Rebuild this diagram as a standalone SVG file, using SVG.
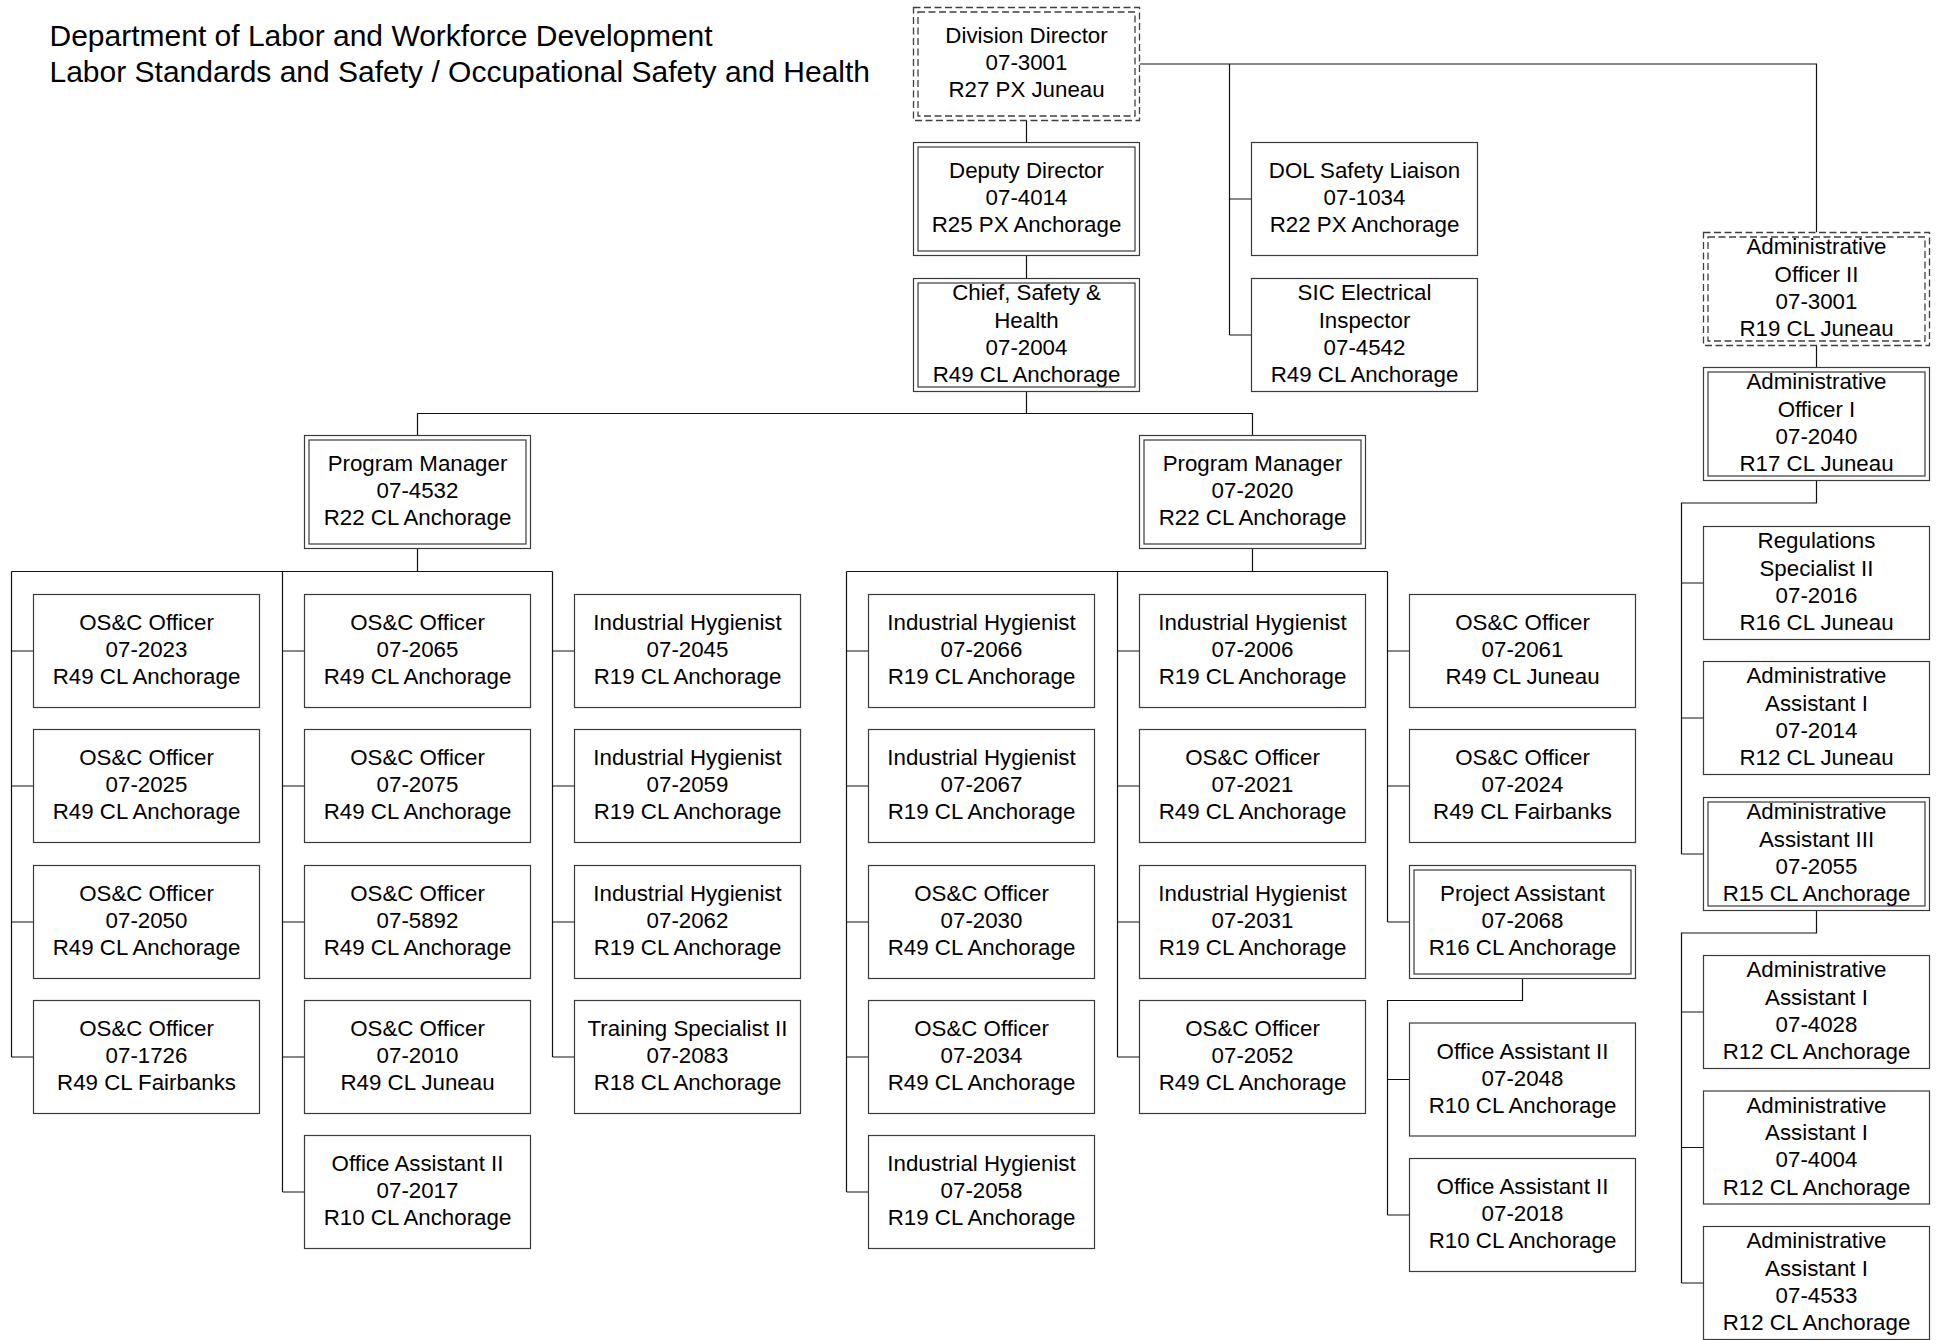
<svg xmlns="http://www.w3.org/2000/svg" width="1936" height="1340" viewBox="0 0 1936 1340">
<style>
.b{fill:#fff;stroke:#3a3a3a;stroke-width:1.2}
.d{fill:#fff;stroke:#3f3f3f;stroke-width:1.3;stroke-dasharray:7 3.5}
.di{fill:none;stroke:#3f3f3f;stroke-width:1.3;stroke-dasharray:7 3.5}
.bi{fill:none;stroke:#3a3a3a;stroke-width:1.2}
.t{font-family:"Liberation Sans",Arial,sans-serif;font-size:22.3px;text-anchor:middle;fill:#000;transform:translateY(-1.3px)}
.h{font-family:"Liberation Sans",Arial,sans-serif;font-size:30px;fill:#000}
.c{fill:none;stroke:#111;stroke-width:1.2}
</style>
<rect width="1936" height="1340" fill="#fff"/>
<text class="h" x="49.5" y="45.7">Department of Labor and Workforce Development</text>
<text class="h" x="49.5" y="81.7">Labor Standards and Safety / Occupational Safety and Health</text>
<g transform="translate(0.5 0.5)">
<g id="connectors">
<path class="c" d="M1026 120V142M1026 255V278"/>
<path class="c" d="M1139 63.5H1816V232"/>
<path class="c" d="M1229 63.5V334.5M1229 198.5H1251M1229 334.5H1251"/>
<path class="c" d="M1026 391V413M417 435V413H1252V435"/>
<path class="c" d="M417 548V571M11 571H552M11 571V1056.5M282 571V1191.5M552 571V1056.5"/>
<path class="c" d="M11 650.5H33M11 785.5H33M11 921.5H33M11 1056.5H33"/>
<path class="c" d="M282 650.5H304M282 785.5H304M282 921.5H304M282 1056.5H304M282 1191.5H304"/>
<path class="c" d="M552 650.5H574M552 785.5H574M552 921.5H574M552 1056.5H574"/>
<path class="c" d="M1252 548V571M846 571H1387M846 571V1191.5M1117 571V1056.5M1387 571V921.5"/>
<path class="c" d="M846 650.5H868M846 785.5H868M846 921.5H868M846 1056.5H868M846 1191.5H868"/>
<path class="c" d="M1117 650.5H1139M1117 785.5H1139M1117 921.5H1139M1117 1056.5H1139"/>
<path class="c" d="M1387 650.5H1409M1387 785.5H1409M1387 921.5H1409"/>
<path class="c" d="M1522 978V1000H1387V1214.5M1387 1079H1409M1387 1214.5H1409"/>
<path class="c" d="M1816 345V367"/>
<path class="c" d="M1816 480V502.5H1681V853.5M1681 582.5H1703M1681 717.5H1703M1681 853.5H1703"/>
<path class="c" d="M1816 910V932.5H1681V1282.5M1681 1011.5H1703M1681 1147H1703M1681 1282.5H1703"/>
</g>

<g id="div-director"><rect class="d" x="913" y="7" width="226" height="113"/><rect class="di" x="917.5" y="11.5" width="217" height="104"/>
<text class="t"><tspan x="1026" y="43.9">Division Director</tspan><tspan x="1026" y="71.1">07-3001</tspan><tspan x="1026" y="98.3">R27 PX Juneau</tspan></text></g>
<g id="deputy-director"><rect class="b" x="913" y="142" width="226" height="113"/><rect class="bi" x="917.5" y="146.5" width="217" height="104"/>
<text class="t"><tspan x="1026" y="178.9">Deputy Director</tspan><tspan x="1026" y="206.1">07-4014</tspan><tspan x="1026" y="233.3">R25 PX Anchorage</tspan></text></g>
<g id="chief"><rect class="b" x="913" y="278" width="226" height="113"/><rect class="bi" x="917.5" y="282.5" width="217" height="104"/>
<text class="t"><tspan x="1026" y="301.3">Chief, Safety &amp;</tspan><tspan x="1026" y="328.5">Health</tspan><tspan x="1026" y="355.7">07-2004</tspan><tspan x="1026" y="382.9">R49 CL Anchorage</tspan></text></g>
<g id="dol-liaison"><rect class="b" x="1251" y="142" width="226" height="113"/>
<text class="t"><tspan x="1364" y="178.9">DOL Safety Liaison</tspan><tspan x="1364" y="206.1">07-1034</tspan><tspan x="1364" y="233.3">R22 PX Anchorage</tspan></text></g>
<g id="sic-inspector"><rect class="b" x="1251" y="278" width="226" height="113"/>
<text class="t"><tspan x="1364" y="301.3">SIC Electrical</tspan><tspan x="1364" y="328.5">Inspector</tspan><tspan x="1364" y="355.7">07-4542</tspan><tspan x="1364" y="382.9">R49 CL Anchorage</tspan></text></g>
<g id="pm-4532"><rect class="b" x="304" y="435" width="226" height="113"/><rect class="bi" x="308.5" y="439.5" width="217" height="104"/>
<text class="t"><tspan x="417" y="471.9">Program Manager</tspan><tspan x="417" y="499.1">07-4532</tspan><tspan x="417" y="526.3">R22 CL Anchorage</tspan></text></g>
<g id="pm-2020"><rect class="b" x="1139" y="435" width="226" height="113"/><rect class="bi" x="1143.5" y="439.5" width="217" height="104"/>
<text class="t"><tspan x="1252" y="471.9">Program Manager</tspan><tspan x="1252" y="499.1">07-2020</tspan><tspan x="1252" y="526.3">R22 CL Anchorage</tspan></text></g>

<g id="n-2023"><rect class="b" x="33" y="594" width="226" height="113"/><text class="t"><tspan x="146" y="630.9">OS&amp;C Officer</tspan><tspan x="146" y="658.1">07-2023</tspan><tspan x="146" y="685.3">R49 CL Anchorage</tspan></text></g>
<g id="n-2025"><rect class="b" x="33" y="729" width="226" height="113"/><text class="t"><tspan x="146" y="765.9">OS&amp;C Officer</tspan><tspan x="146" y="793.1">07-2025</tspan><tspan x="146" y="820.3">R49 CL Anchorage</tspan></text></g>
<g id="n-2050"><rect class="b" x="33" y="865" width="226" height="113"/><text class="t"><tspan x="146" y="901.9">OS&amp;C Officer</tspan><tspan x="146" y="929.1">07-2050</tspan><tspan x="146" y="956.3">R49 CL Anchorage</tspan></text></g>
<g id="n-1726"><rect class="b" x="33" y="1000" width="226" height="113"/><text class="t"><tspan x="146" y="1036.9">OS&amp;C Officer</tspan><tspan x="146" y="1064.1">07-1726</tspan><tspan x="146" y="1091.3">R49 CL Fairbanks</tspan></text></g>

<g id="n-2065"><rect class="b" x="304" y="594" width="226" height="113"/><text class="t"><tspan x="417" y="630.9">OS&amp;C Officer</tspan><tspan x="417" y="658.1">07-2065</tspan><tspan x="417" y="685.3">R49 CL Anchorage</tspan></text></g>
<g id="n-2075"><rect class="b" x="304" y="729" width="226" height="113"/><text class="t"><tspan x="417" y="765.9">OS&amp;C Officer</tspan><tspan x="417" y="793.1">07-2075</tspan><tspan x="417" y="820.3">R49 CL Anchorage</tspan></text></g>
<g id="n-5892"><rect class="b" x="304" y="865" width="226" height="113"/><text class="t"><tspan x="417" y="901.9">OS&amp;C Officer</tspan><tspan x="417" y="929.1">07-5892</tspan><tspan x="417" y="956.3">R49 CL Anchorage</tspan></text></g>
<g id="n-2010"><rect class="b" x="304" y="1000" width="226" height="113"/><text class="t"><tspan x="417" y="1036.9">OS&amp;C Officer</tspan><tspan x="417" y="1064.1">07-2010</tspan><tspan x="417" y="1091.3">R49 CL Juneau</tspan></text></g>
<g id="n-2017"><rect class="b" x="304" y="1135" width="226" height="113"/><text class="t"><tspan x="417" y="1171.9">Office Assistant II</tspan><tspan x="417" y="1199.1">07-2017</tspan><tspan x="417" y="1226.3">R10 CL Anchorage</tspan></text></g>

<g id="n-2045"><rect class="b" x="574" y="594" width="226" height="113"/><text class="t"><tspan x="687" y="630.9">Industrial Hygienist</tspan><tspan x="687" y="658.1">07-2045</tspan><tspan x="687" y="685.3">R19 CL Anchorage</tspan></text></g>
<g id="n-2059"><rect class="b" x="574" y="729" width="226" height="113"/><text class="t"><tspan x="687" y="765.9">Industrial Hygienist</tspan><tspan x="687" y="793.1">07-2059</tspan><tspan x="687" y="820.3">R19 CL Anchorage</tspan></text></g>
<g id="n-2062"><rect class="b" x="574" y="865" width="226" height="113"/><text class="t"><tspan x="687" y="901.9">Industrial Hygienist</tspan><tspan x="687" y="929.1">07-2062</tspan><tspan x="687" y="956.3">R19 CL Anchorage</tspan></text></g>
<g id="n-2083"><rect class="b" x="574" y="1000" width="226" height="113"/><text class="t"><tspan x="687" y="1036.9">Training Specialist II</tspan><tspan x="687" y="1064.1">07-2083</tspan><tspan x="687" y="1091.3">R18 CL Anchorage</tspan></text></g>

<g id="n-2066"><rect class="b" x="868" y="594" width="226" height="113"/><text class="t"><tspan x="981" y="630.9">Industrial Hygienist</tspan><tspan x="981" y="658.1">07-2066</tspan><tspan x="981" y="685.3">R19 CL Anchorage</tspan></text></g>
<g id="n-2067"><rect class="b" x="868" y="729" width="226" height="113"/><text class="t"><tspan x="981" y="765.9">Industrial Hygienist</tspan><tspan x="981" y="793.1">07-2067</tspan><tspan x="981" y="820.3">R19 CL Anchorage</tspan></text></g>
<g id="n-2030"><rect class="b" x="868" y="865" width="226" height="113"/><text class="t"><tspan x="981" y="901.9">OS&amp;C Officer</tspan><tspan x="981" y="929.1">07-2030</tspan><tspan x="981" y="956.3">R49 CL Anchorage</tspan></text></g>
<g id="n-2034"><rect class="b" x="868" y="1000" width="226" height="113"/><text class="t"><tspan x="981" y="1036.9">OS&amp;C Officer</tspan><tspan x="981" y="1064.1">07-2034</tspan><tspan x="981" y="1091.3">R49 CL Anchorage</tspan></text></g>
<g id="n-2058"><rect class="b" x="868" y="1135" width="226" height="113"/><text class="t"><tspan x="981" y="1171.9">Industrial Hygienist</tspan><tspan x="981" y="1199.1">07-2058</tspan><tspan x="981" y="1226.3">R19 CL Anchorage</tspan></text></g>

<g id="n-2006"><rect class="b" x="1139" y="594" width="226" height="113"/><text class="t"><tspan x="1252" y="630.9">Industrial Hygienist</tspan><tspan x="1252" y="658.1">07-2006</tspan><tspan x="1252" y="685.3">R19 CL Anchorage</tspan></text></g>
<g id="n-2021"><rect class="b" x="1139" y="729" width="226" height="113"/><text class="t"><tspan x="1252" y="765.9">OS&amp;C Officer</tspan><tspan x="1252" y="793.1">07-2021</tspan><tspan x="1252" y="820.3">R49 CL Anchorage</tspan></text></g>
<g id="n-2031"><rect class="b" x="1139" y="865" width="226" height="113"/><text class="t"><tspan x="1252" y="901.9">Industrial Hygienist</tspan><tspan x="1252" y="929.1">07-2031</tspan><tspan x="1252" y="956.3">R19 CL Anchorage</tspan></text></g>
<g id="n-2052"><rect class="b" x="1139" y="1000" width="226" height="113"/><text class="t"><tspan x="1252" y="1036.9">OS&amp;C Officer</tspan><tspan x="1252" y="1064.1">07-2052</tspan><tspan x="1252" y="1091.3">R49 CL Anchorage</tspan></text></g>

<g id="n-2061"><rect class="b" x="1409" y="594" width="226" height="113"/><text class="t"><tspan x="1522" y="630.9">OS&amp;C Officer</tspan><tspan x="1522" y="658.1">07-2061</tspan><tspan x="1522" y="685.3">R49 CL Juneau</tspan></text></g>
<g id="n-2024"><rect class="b" x="1409" y="729" width="226" height="113"/><text class="t"><tspan x="1522" y="765.9">OS&amp;C Officer</tspan><tspan x="1522" y="793.1">07-2024</tspan><tspan x="1522" y="820.3">R49 CL Fairbanks</tspan></text></g>
<g id="n-2068"><rect class="b" x="1409" y="865" width="226" height="113"/><rect class="bi" x="1413.5" y="869.5" width="217" height="104"/><text class="t"><tspan x="1522" y="901.9">Project Assistant</tspan><tspan x="1522" y="929.1">07-2068</tspan><tspan x="1522" y="956.3">R16 CL Anchorage</tspan></text></g>
<g id="n-2048"><rect class="b" x="1409" y="1022.5" width="226" height="113"/><text class="t"><tspan x="1522" y="1059.4">Office Assistant II</tspan><tspan x="1522" y="1086.6">07-2048</tspan><tspan x="1522" y="1113.8">R10 CL Anchorage</tspan></text></g>
<g id="n-2018"><rect class="b" x="1409" y="1158" width="226" height="113"/><text class="t"><tspan x="1522" y="1194.9">Office Assistant II</tspan><tspan x="1522" y="1222.1">07-2018</tspan><tspan x="1522" y="1249.3">R10 CL Anchorage</tspan></text></g>

<g id="ao-ii"><rect class="d" x="1703" y="232" width="226" height="113"/><rect class="di" x="1707.5" y="236.5" width="217" height="104"/><text class="t"><tspan x="1816" y="255.3">Administrative</tspan><tspan x="1816" y="282.5">Officer II</tspan><tspan x="1816" y="309.7">07-3001</tspan><tspan x="1816" y="336.9">R19 CL Juneau</tspan></text></g>
<g id="ao-i"><rect class="b" x="1703" y="367" width="226" height="113"/><rect class="bi" x="1707.5" y="371.5" width="217" height="104"/><text class="t"><tspan x="1816" y="390.3">Administrative</tspan><tspan x="1816" y="417.5">Officer I</tspan><tspan x="1816" y="444.7">07-2040</tspan><tspan x="1816" y="471.9">R17 CL Juneau</tspan></text></g>
<g id="n-2016"><rect class="b" x="1703" y="526" width="226" height="113"/><text class="t"><tspan x="1816" y="549.3">Regulations</tspan><tspan x="1816" y="576.5">Specialist II</tspan><tspan x="1816" y="603.7">07-2016</tspan><tspan x="1816" y="630.9">R16 CL Juneau</tspan></text></g>
<g id="n-2014"><rect class="b" x="1703" y="661" width="226" height="113"/><text class="t"><tspan x="1816" y="684.3">Administrative</tspan><tspan x="1816" y="711.5">Assistant I</tspan><tspan x="1816" y="738.7">07-2014</tspan><tspan x="1816" y="765.9">R12 CL Juneau</tspan></text></g>
<g id="n-2055"><rect class="b" x="1703" y="797" width="226" height="113"/><rect class="bi" x="1707.5" y="801.5" width="217" height="104"/><text class="t"><tspan x="1816" y="820.3">Administrative</tspan><tspan x="1816" y="847.5">Assistant III</tspan><tspan x="1816" y="874.7">07-2055</tspan><tspan x="1816" y="901.9">R15 CL Anchorage</tspan></text></g>
<g id="n-4028"><rect class="b" x="1703" y="955" width="226" height="113"/><text class="t"><tspan x="1816" y="978.3">Administrative</tspan><tspan x="1816" y="1005.5">Assistant I</tspan><tspan x="1816" y="1032.7">07-4028</tspan><tspan x="1816" y="1059.9">R12 CL Anchorage</tspan></text></g>
<g id="n-4004"><rect class="b" x="1703" y="1090.5" width="226" height="113"/><text class="t"><tspan x="1816" y="1113.8">Administrative</tspan><tspan x="1816" y="1141">Assistant I</tspan><tspan x="1816" y="1168.2">07-4004</tspan><tspan x="1816" y="1195.4">R12 CL Anchorage</tspan></text></g>
<g id="n-4533"><rect class="b" x="1703" y="1226" width="226" height="113"/><text class="t"><tspan x="1816" y="1249.3">Administrative</tspan><tspan x="1816" y="1276.5">Assistant I</tspan><tspan x="1816" y="1303.7">07-4533</tspan><tspan x="1816" y="1330.9">R12 CL Anchorage</tspan></text></g>
</g>
</svg>
